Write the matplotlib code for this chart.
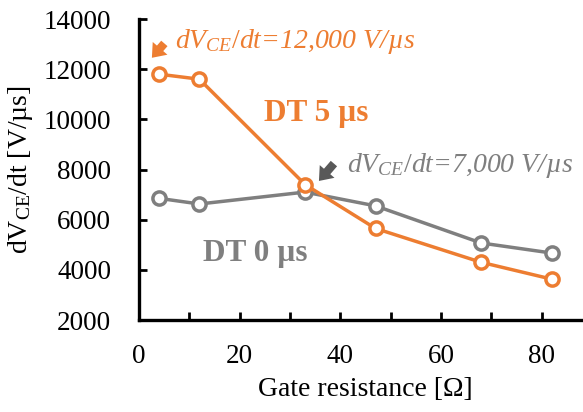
import matplotlib
matplotlib.use('Agg')
import matplotlib.pyplot as plt
from matplotlib.ticker import MultipleLocator

# gate resistance sweep [ohm]
rg = [4, 12, 33, 47, 68, 82]
dt5_vals = [11800, 11600, 7400, 5650, 4300, 3630]
dt0_vals = [6850, 6625, 7100, 6550, 5070, 4670]

orange = '#ED7D31'
gray = '#7F7F7F'

plt.rcParams['font.family'] = ['Liberation Serif', 'DejaVu Serif']
plt.rcParams['mathtext.fontset'] = 'custom'
plt.rcParams['mathtext.rm'] = 'Liberation Serif'
plt.rcParams['mathtext.it'] = 'Liberation Serif:italic'

fig = plt.figure(figsize=(5.83, 4.12), dpi=100)
ax = fig.add_axes([139/583, 1-320/412, (583-139)/583*1.02, 301/412])

mk = dict(marker='o', markersize=9.5, markerfacecolor='white', markeredgewidth=2.5,
          linewidth=2.5, clip_on=False, zorder=3)
ax.plot(rg, dt0_vals, color=gray, **mk)
ax.plot(rg, dt5_vals, color=orange, **mk)

ax.set_xlim(0, 90)
ax.set_ylim(2000, 14000)
ax.xaxis.set_major_locator(MultipleLocator(20))
ax.xaxis.set_minor_locator(MultipleLocator(10))
ax.yaxis.set_major_locator(MultipleLocator(2000))
ax.tick_params(axis='both', which='both', direction='in', length=6, width=2,
               labelsize=19.5)
ax.tick_params(axis='y', pad=20)
ax.tick_params(axis='x', pad=17)

for s in ['top', 'right']:
    ax.spines[s].set_visible(False)
for s in ['left', 'bottom']:
    ax.spines[s].set_linewidth(2.4)

ax.set_xlabel('Gate resistance [Ω]', fontsize=20, labelpad=6)
ax.set_ylabel(r'dV$_{\mathrm{CE}}$/dt [V/µs]', fontsize=20, labelpad=6)

arrow = 'simple,head_width=1.4,head_length=0.9,tail_width=0.6'

# slope annotations
ax.text(7.2, 12850, r'$dV_{CE}/dt$=12,000 V/µs', color=orange, fontsize=20,
        style='italic', va='baseline')
ax.annotate('', xy=(2.2, 12370), xytext=(5.4, 13110),
            arrowprops=dict(arrowstyle=arrow, color=orange, lw=0))
ax.text(35.2, 10250, 'DT 5 µs', color=orange, fontsize=22.5, fontweight='bold',
        ha='center', va='center')

ax.text(41.4, 7900, r'$dV_{CE}/dt$=7,000 V/µs', color=gray, fontsize=20,
        style='italic', va='baseline')
ax.annotate('', xy=(35.4, 7460), xytext=(39.1, 8320),
            arrowprops=dict(arrowstyle=arrow, color='#595959', lw=0))
ax.text(33.4, 4670, 'DT 0 µs', color=gray, fontsize=22.5, fontweight='bold',
        ha='right', va='center')

plt.savefig('out.png', dpi=100)
